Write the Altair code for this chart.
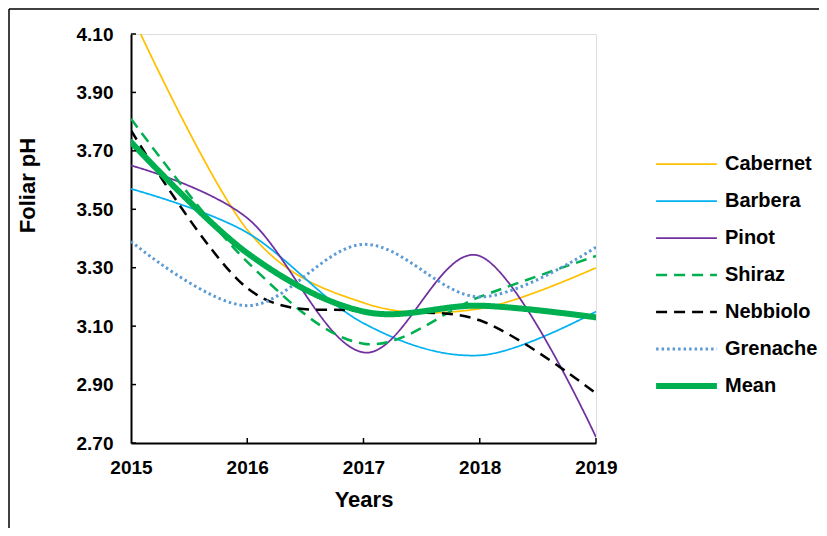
import altair as alt
import pandas as pd

years = [2015, 2016, 2017, 2018, 2019]
series_names = ["Cabernet", "Barbera", "Pinot", "Shiraz", "Nebbiolo", "Grenache", "Mean"]
cabernet = [4.17, 3.43, 3.18, 3.16, 3.30]
barbera = [3.57, 3.42, 3.11, 3.00, 3.15]
pinot = [3.65, 3.47, 3.01, 3.34, 2.72]
shiraz = [3.81, 3.32, 3.04, 3.20, 3.34]
nebbiolo = [3.77, 3.23, 3.15, 3.12, 2.87]
grenache = [3.39, 3.17, 3.38, 3.20, 3.37]
mean = [3.73, 3.35, 3.15, 3.17, 3.13]
y_ticks = [2.7, 2.9, 3.1, 3.3, 3.5, 3.7, 3.9, 4.1]

colors = ["#FFC000", "#00B0F0", "#7030A0", "#00B050", "#000000", "#5B9BD5", "#00B050"]
dashes = [[1, 0], [1, 0], [1, 0], [11, 7], [11, 7], [2.5, 3], [1, 0]]
widths = [1.75, 1.75, 1.75, 2.5, 2.5, 3, 6]

values = [cabernet, barbera, pinot, shiraz, nebbiolo, grenache, mean]
rows = []
for name, vals, w in zip(series_names, values, widths):
    for yr, v in zip(years, vals):
        rows.append({"year": yr, "pH": v, "series": name, "w": w})
df = pd.DataFrame(rows)

FONT = "Liberation Sans"

# legend symbol stroke width expression built from the arrays
width_expr = "1.5"
for name, w in zip(series_names, widths):
    width_expr = f"(datum.value === '{name}' ? {w} : {width_expr})"

x_enc = alt.X("year:Q", scale=alt.Scale(domain=[2015, 2019], nice=False, zero=False),
              axis=alt.Axis(values=years, format="d", title="Years", labelFlush=False,
                            labelOverlap=False, ticks=False, tickSize=0, labelPadding=15,
                            labelFontSize=19, labelFontWeight="bold", labelColor="#000",
                            titleFontSize=22, titleFontWeight="bold", titleColor="#000",
                            titleY=63, titleBaseline="alphabetic",
                            domainColor="#000", domainWidth=2, grid=False))
y_enc = alt.Y("pH:Q", scale=alt.Scale(domain=[2.7, 4.1], nice=False, zero=False),
              axis=alt.Axis(values=y_ticks, format=".2f", title="Foliar pH",
                            labelOverlap=False, ticks=False, tickSize=0, labelPadding=18,
                            labelFontSize=19, labelFontWeight="bold", labelColor="#000",
                            titleFontSize=22, titleFontWeight="bold", titleColor="#000",
                            titleAngle=-90, titleX=-97, titleY=151, titleAlign="center",
                            titleBaseline="alphabetic",
                            domainColor="#000", domainWidth=2, grid=False))

legend = alt.Legend(title=None, orient="none", legendX=524, legendY=120,
                    symbolType="stroke", symbolSize=3700, labelFontSize=20,
                    labelFontWeight="bold", labelColor="#000", labelOffset=7,
                    clipHeight=20, rowPadding=17, labelFont=FONT,
                    symbolStrokeWidth=alt.ExprRef(expr=width_expr))

color_enc = alt.Color("series:N", scale=alt.Scale(domain=series_names, range=colors), legend=legend)
dash_enc = alt.StrokeDash("series:N", scale=alt.Scale(domain=series_names, range=dashes), legend=legend)
width_enc = alt.StrokeWidth("w:Q", scale=None, legend=None)

base = alt.Chart(df)
cultivars = base.transform_filter(alt.datum.series != "Mean").mark_line(
    interpolate="cardinal", clip=True).encode(
    x=x_enc, y=y_enc, color=color_enc, strokeDash=dash_enc, strokeWidth=width_enc,
    detail="series:N")
mean_line = base.transform_filter(alt.datum.series == "Mean").mark_line(
    interpolate="cardinal", clip=True, strokeCap="round").encode(
    x=x_enc, y=y_enc, color=color_enc, strokeDash=dash_enc, strokeWidth=width_enc)

xt = alt.Chart(pd.DataFrame({"year": years[1:]})).mark_rule(color="#000", strokeWidth=1.5).encode(
    x="year:Q", y=alt.value(409), y2=alt.value(404))
yt = alt.Chart(pd.DataFrame({"pH": y_ticks})).mark_rule(color="#000", strokeWidth=1.5).encode(
    y="pH:Q", x=alt.value(0), x2=alt.value(5))

frame_df = pd.DataFrame({"a": [0]})
frame_top = alt.Chart(frame_df).mark_rule(color="#000", strokeWidth=1.5).encode(
    x=alt.value(-122), x2=alt.value(700), y=alt.value(-25))
frame_left = alt.Chart(frame_df).mark_rule(color="#000", strokeWidth=1.5).encode(
    x=alt.value(-122), y=alt.value(-25), y2=alt.value(510))

chart = alt.layer(cultivars, mean_line, xt, yt, frame_top, frame_left).properties(
    width=465, height=409,
    autosize=alt.AutoSizeParams(type="none"),
    padding={"left": 123, "top": 26, "right": 223, "bottom": 85},
    background="white",
).configure_view(stroke=None).configure(font=FONT)

chart.save("out.html", embed_options={"renderer": "svg", "actions": False})
